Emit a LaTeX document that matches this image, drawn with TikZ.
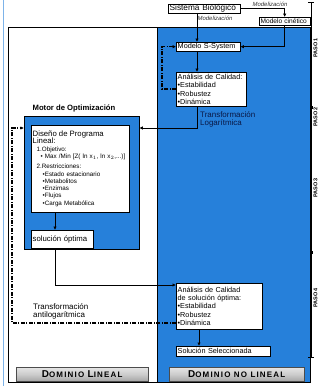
\documentclass[tikz,border=0pt]{standalone}
\usepackage{fontspec}
\setmainfont{Liberation Sans}
\usepackage{tikz}
\usetikzlibrary{positioning,calc,arrows.meta,shadows}
\definecolor{azul}{RGB}{38,128,218}
\definecolor{azuloscuro}{RGB}{10,25,70}
\newcommand{\letrag}{\fontsize{10}{10}\selectfont\addfontfeature{LetterSpace=15}}
\newcommand{\letrap}{\fontsize{8}{8}\selectfont\addfontfeature{LetterSpace=15}}

\tikzset{
  caja/.style={draw, fill=white, anchor=north west, inner xsep=1.5pt, inner ysep=0pt,
    align=left, font=\fontsize{7.3}{8.4}\selectfont,
    drop shadow={shadow xshift=0.7pt, shadow yshift=-0.7pt, fill=gray!80, opacity=1}},
  flecha/.style={-{Latex[length=3.5pt,width=3.5pt]}, line width=1pt},
  retro/.style={flecha, line width=1.2pt, dash pattern=on 4pt off 1.5pt on 1pt off 1.5pt},
  modtxt/.style={font=\fontsize{6}{6.5}\selectfont\itshape, text=black!80, inner sep=0pt},
  paso/.style={rotate=90, font=\fontsize{5.5}{6}\selectfont\bfseries, inner sep=0pt},
  boton/.style={draw=gray!60!black, top color=gray!20, bottom color=gray!70, middle color=gray!40,
    anchor=north west, inner sep=0pt, font=\bfseries}
}

\begin{document}
\begin{tikzpicture}[x=1bp, y=-1bp]
  \useasboundingbox (0,0) rectangle (321,386);
  % marco exterior y dominios
  \draw[azul!60, line width=0.8pt] (3,0) -- (3,386);
  \draw[fill=white] (8,27) rectangle (157,382);
  \draw[fill=azul] (157,27) rectangle (310,382);

  % pasos
  \draw[line width=0.8pt] (311,2) -- (311,357);
  \draw[line width=0.8pt] (308,2) -- (314,2);
  \draw[line width=0.8pt] (308,357) -- (314,357);
  \fill (309.5,105.5) rectangle (312.5,108.5);
  \fill (309.5,250.5) rectangle (312.5,253.5);
  \node[paso] (p1) at (315.5,48) {PASO 1};
  \node[paso] (p2) at (315.5,117) {PASO 2};
  \node[paso] (p3) at (315.5,188) {PASO 3};
  \node[paso] (p4) at (315.5,298) {PASO 4};

  % dominio no lineal
  \node[caja, text width=69bp, minimum height=8.5bp, font=\fontsize{8.3}{9}\selectfont] (sb) at (168,4) {Sistema Biológico};
  \node[caja, text width=48bp, minimum height=7.5bp, font=\fontsize{6.6}{7}\selectfont] (mc) at (259,17) {Modelo cinético};
  \node[caja, text width=61bp, minimum height=9bp] (ss) at (176,42) {Modelo S-System};
  \node[caja, text width=67bp, minimum height=34bp] (ac) at (176,72)
    {Análisis de Calidad:\\•Estabilidad\\•Robustez\\•Dinámica};
  \node[modtxt] (mod1) at (215,18) {Modelización};
  \node[modtxt] (mod2) at (270,4) {Modelización};
  \node[anchor=north west, align=left, inner sep=0pt, text=azuloscuro,
    font=\fontsize{8}{8.2}\selectfont] (tlog) at (200,111) {Transformación\\Logarítmica};

  % motor de optimizacion
  \node[draw, fill=azul, anchor=north west, minimum width=115bp, minimum height=133bp, inner sep=0pt] (motor) at (24,116) {};
  \node[font=\fontsize{7.7}{8}\selectfont\bfseries] (motortxt) at (74,108) {Motor de Optimización};
  \node[caja, text width=95bp, minimum height=87bp, font=\fontsize{6.3}{7.3}\selectfont] (dpl) at (31,125)
    {{\fontsize{7.8}{8}\selectfont Diseño de Programa\\Lineal:}\\
     \hspace*{4bp}1.Objetivo:\\
     \hspace*{8bp}• Max /Min [Z( ln x$_1$, ln x$_2$,...)]\\[3bp]
     \hspace*{4bp}2.Restricciones:\\
     \hspace*{10bp}•Estado estacionario\\
     \hspace*{10bp}•Metabolitos\\
     \hspace*{10bp}•Enzimas\\
     \hspace*{10bp}•Flujos\\
     \hspace*{10bp}•Carga Metabólica};
  \node[caja, text width=59bp, minimum height=18bp, font=\fontsize{7.8}{8.4}\selectfont] (so) at (31,230) {solución óptima};

  \node[caja, text width=83bp, minimum height=46bp] (acs) at (176,283)
    {Análisis de Calidad\\de solución óptima:\\•Estabilidad\\•Robustez\\•Dinámica};
  \node[caja, text width=91bp, minimum height=10bp, font=\fontsize{7.3}{8}\selectfont] (sel) at (176,346) {Solución Seleccionada};
  \node[anchor=north west, align=left, inner sep=0pt,
    font=\fontsize{8}{8.2}\selectfont] (tanti) at (33,303) {Transformación\\antilogarítmica};

  % botones de dominio
  \node[boton, minimum width=132bp, minimum height=14bp] (dl) at (16,367)
    {\letrag D\letrap OMINIO \letrag L\letrap INEAL};
  \node[boton, minimum width=135bp, minimum height=14bp] (dnl) at (169,367)
    {\letrag D\letrap OMINIO NO LINEAL};

  % conectores
  \coordinate (colA) at (197,0);
  \coordinate (colB) at (55,0);
  \coordinate (colC) at (199,0);
  \coordinate (yT) at (0,128);
  \coordinate (r1) at (162,89);
  \coordinate (r2) at (12,323);
  \draw[flecha] (sb.east) -| (mc.north);
  \draw[flecha] (mc.south) |- (ss.east);
  \draw[flecha] (sb.south -| colA) -- (ss.north -| colA);
  \draw[flecha] (ss.south -| colA) -- (ac.north -| colA);
  \draw[retro] (ac.west |- r1) -- (r1) |- (ss.west);
  \draw[flecha] (ac.south -| colA) |- (motor.east |- yT);
  \draw[flecha] (dpl.south -| colB) -- (so.north -| colB);
  \draw[flecha] (so.south -| colB) |- (acs.west |- 0,285);
  \draw[retro] (acs.west |- r2) -- (r2) |- (motor.west |- yT);
  \draw[flecha] (acs.south -| colC) -- (sel.north -| colC);
\end{tikzpicture}
\end{document}
